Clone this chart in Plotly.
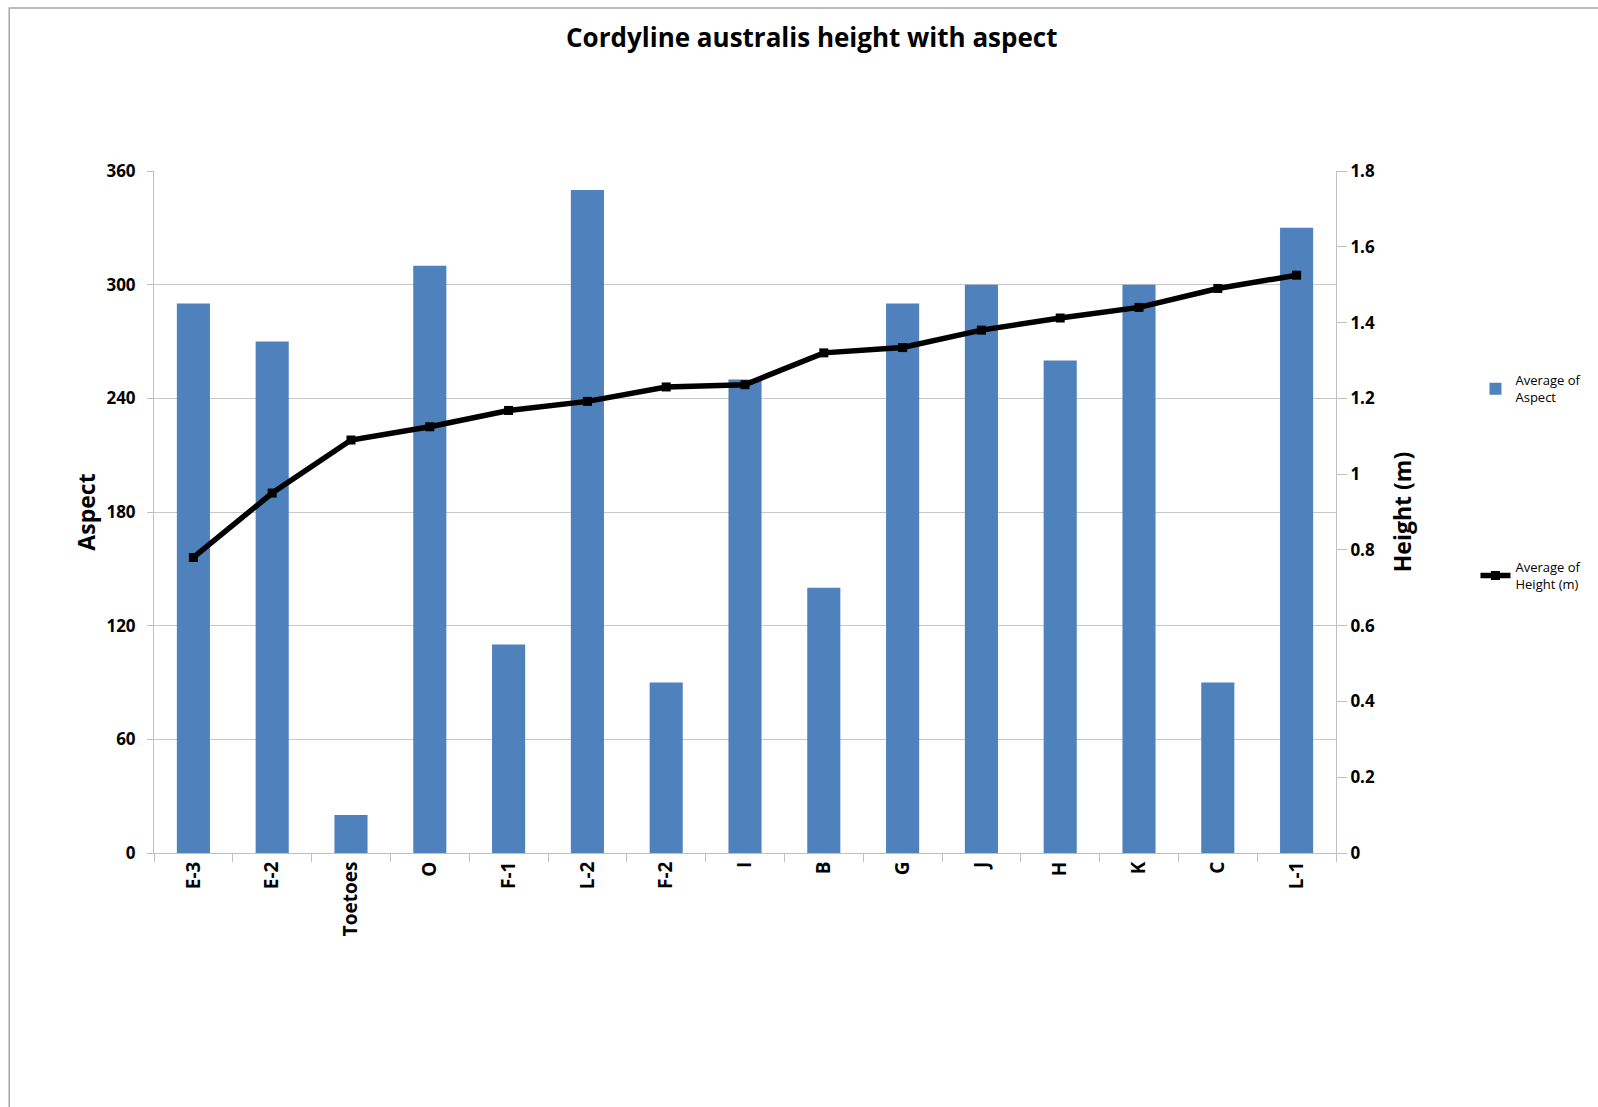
import plotly.graph_objects as go

# Sites ordered by mean height
sites = ["E-3", "E-2", "Toetoes", "O", "F-1", "L-2", "F-2", "I", "B",
         "G", "J", "H", "K", "C", "L-1"]
avg_aspect = [290, 270, 20, 310, 110, 350, 90, 250, 140, 290, 300, 260, 300, 90, 330]
avg_height = [0.78, 0.95, 1.09, 1.125, 1.168, 1.192, 1.23, 1.236, 1.32,
              1.334, 1.38, 1.412, 1.44, 1.49, 1.525]

aspect_ticks = [0, 60, 120, 180, 240, 300, 360]
height_ticks = [0, 0.2, 0.4, 0.6, 0.8, 1, 1.2, 1.4, 1.6, 1.8]

FONT = "Open Sans, Lato, sans-serif"
AXIS_GREY = "#bfbfbf"


def bold(labels):
    return [f"<b>{v}</b>" for v in labels]


fig = go.Figure()
fig.add_trace(go.Bar(
    x=sites, y=avg_aspect, name="Average of<br>Aspect",
    marker=dict(color="#4f81bd", line=dict(width=0)),
    legendgroup="a", yaxis="y",
))
fig.add_trace(go.Scatter(
    x=sites, y=avg_height, name="Average of<br>Height (m)",
    mode="lines+markers",
    line=dict(color="black", width=5.5),
    marker=dict(symbol="square", size=9, color="black"),
    legendgroup="b", yaxis="y2",
))

fig.update_layout(
    width=1598, height=1107,
    margin=dict(l=154, r=260, t=171, b=254),
    paper_bgcolor="white", plot_bgcolor="white",
    font=dict(family=FONT, color="black"),
    title=dict(text="<b>Cordyline australis height with aspect</b>",
               x=0.508, xanchor="center", y=0.966, yanchor="middle",
               font=dict(size=26, family=FONT)),
    bargap=0.58,
    showlegend=True,
    legend=dict(x=1.118, xanchor="left", y=0.715, yanchor="top",
                tracegroupgap=150, font=dict(size=13, family=FONT),
                itemwidth=30, bgcolor="rgba(0,0,0,0)"),
    xaxis=dict(
        type="category", range=[-0.5, len(sites) - 0.5],
        tickvals=sites, ticktext=bold(sites),
        tickson="boundaries", ticks="outside", ticklen=8,
        tickcolor=AXIS_GREY, showline=True, linecolor=AXIS_GREY, linewidth=1,
        tickangle=-90, tickfont=dict(size=19, family=FONT),
        showgrid=False, zeroline=False,
    ),
    yaxis=dict(
        title=dict(text="<b>Aspect</b>", font=dict(size=23, family=FONT), standoff=4),
        range=[0, 360], tickvals=aspect_ticks, ticktext=bold(aspect_ticks),
        ticks="outside", ticklen=6, ticklabelstandoff=8,
        tickcolor=AXIS_GREY, showline=True, linecolor=AXIS_GREY,
        showgrid=True, gridcolor="#c8c8c8", gridwidth=1, zeroline=False,
        tickfont=dict(size=17, family=FONT),
    ),
    yaxis2=dict(
        title=dict(text="<b>Height (m)</b>", font=dict(size=23, family=FONT), standoff=20),
        overlaying="y", side="right", range=[0, 1.8], tickvals=height_ticks,
        ticktext=bold([f"{v:g}" for v in height_ticks]),
        ticks="outside", ticklen=10, tickcolor=AXIS_GREY,
        showline=True, linecolor=AXIS_GREY, showgrid=False, zeroline=False,
        tickfont=dict(size=17, family=FONT),
    ),
)

# Chart-area frame
fig.add_shape(type="rect", xref="paper", yref="paper",
              x0=(9 - 154) / 1184, x1=2.0, y0=-2.0, y1=1 + (171 - 8) / 682,
              line=dict(color="#a6a6a6", width=1.5), layer="below")

fig.write_html("out.html")
